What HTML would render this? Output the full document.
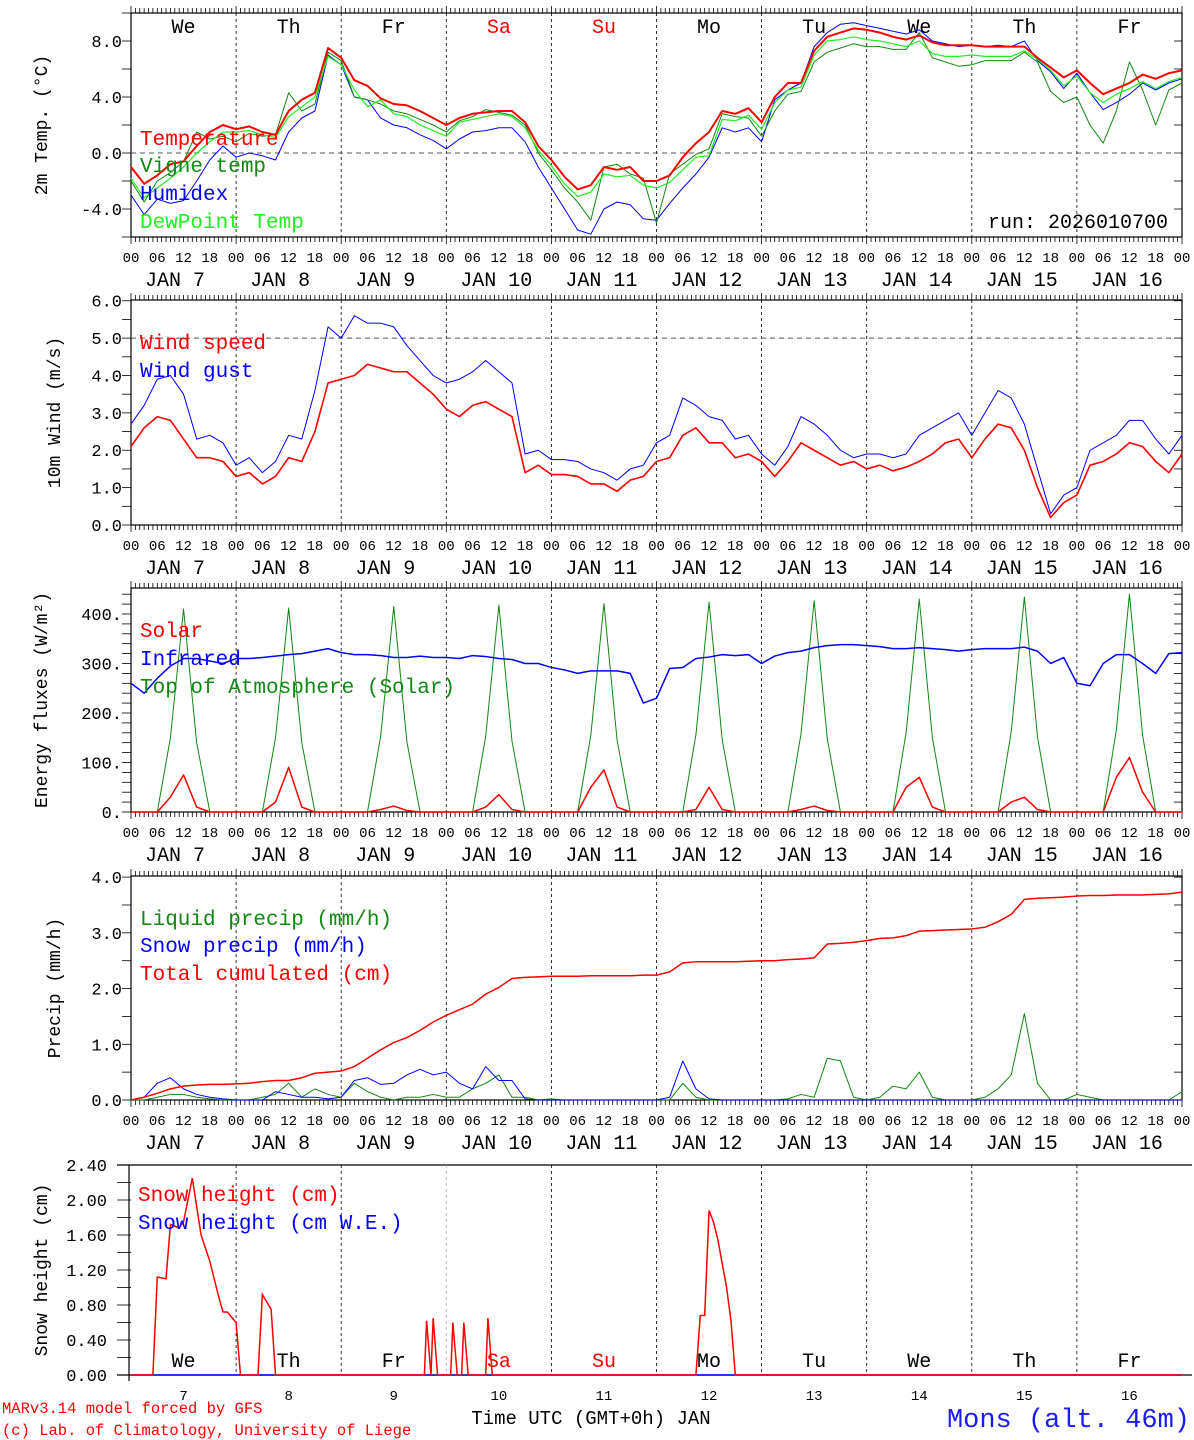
<!DOCTYPE html>
<html><head><meta charset="utf-8"><style>
html,body{margin:0;padding:0;background:#fff;}
svg{display:block;font-family:"Liberation Mono",monospace;}
</style></head><body>
<svg id="chart" width="1194" height="1440" viewBox="0 0 1194 1440" xmlns="http://www.w3.org/2000/svg"></svg>
<script>
// ---- data (3-hourly from Jan 7 00 UTC to Jan 17 00 UTC) ----
const days = ["7","8","9","10","11","12","13","14","15","16"];
const dayNames = ["We","Th","Fr","Sa","Su","Mo","Tu","We","Th","Fr"];
const temperature = [-1.0,-2.2,-1.6,-0.8,-0.6,0.5,1.5,2.0, 1.7,1.9,1.5,1.3,3.0,3.8,4.3,7.5, 6.8,5.2,4.8,3.9,3.5,3.4,3.0,2.5, 2.0,2.5,2.8,2.9,3.0,3.0,2.2,0.5, -0.5,-1.7,-2.6,-2.3,-1.0,-1.2,-1.0,-2.0, -2.0,-1.6,-0.3,0.7,1.5,3.0,2.8,3.2, 2.2,4.0,5.0,5.0,7.3,8.3,8.6,8.9, 8.8,8.6,8.3,8.1,8.4,7.9,7.7,7.7, 7.7,7.6,7.6,7.6,7.6,6.8,6.1,5.4, 5.9,5.0,4.2,4.6,5.0,5.6,5.3,5.7,5.9];
const vigneTemp = [-2.0,-3.5,-2.0,-1.4,-0.6,1.5,1.0,1.2, 0.8,1.4,1.2,1.3,4.3,3.0,3.5,7.2, 6.6,4.0,3.8,3.5,3.0,2.8,2.4,2.0, 1.5,2.3,2.6,3.1,2.9,2.7,2.0,0.0, -1.2,-2.5,-3.5,-4.8,-1.0,-0.8,-1.5,-1.8, -5.0,-1.5,-0.8,-0.1,0.3,2.8,2.6,2.5, 1.2,3.0,4.2,4.4,6.5,7.2,7.5,7.8, 7.6,7.6,7.4,7.4,8.6,6.8,6.5,6.2, 6.3,6.6,6.6,6.6,7.2,6.5,4.4,3.6, 4.0,2.0,0.7,3.0,6.5,4.5,2.0,4.5,5.0];
const humidex = [-3.0,-4.4,-3.3,-3.6,-3.4,-2.0,-0.5,0.5, -0.3,0.0,-0.2,-0.5,1.5,2.5,3.0,7.0, 6.3,4.0,3.8,2.5,2.0,1.8,1.3,0.9, 0.3,1.0,1.5,1.6,1.8,1.8,0.8,-1.0, -2.5,-4.0,-5.5,-5.8,-4.0,-3.5,-3.7,-4.7, -4.8,-3.6,-2.5,-1.5,-0.3,1.8,1.5,1.8, 0.8,3.8,4.5,5.0,7.6,8.6,9.2,9.3, 9.1,8.9,8.7,8.5,8.8,8.0,7.8,7.6, 7.7,7.6,7.7,7.6,8.0,6.6,5.8,4.6, 5.7,4.3,3.1,3.6,4.2,5.0,4.5,5.0,5.3];
const dewPoint = [-1.8,-3.2,-2.5,-1.8,-1.0,0.0,0.8,1.5, 1.5,1.6,1.3,1.1,2.6,3.3,4.0,6.9, 6.3,4.5,3.3,3.8,2.8,2.6,2.0,1.6, 1.2,2.2,2.4,2.6,2.8,2.6,1.8,0.2, -0.9,-2.2,-3.1,-2.8,-1.5,-1.7,-1.6,-2.3, -2.5,-2.1,-1.2,-0.3,-0.2,2.4,2.3,2.7, 1.7,3.6,4.5,4.7,7.0,8.0,8.1,8.3, 8.1,8.0,7.8,7.6,8.0,7.1,6.9,6.9, 7.0,6.9,6.9,6.9,7.3,6.7,5.9,4.8, 5.5,4.3,3.6,4.2,4.6,5.1,4.6,5.1,5.4];
const windSpeed = [2.1,2.6,2.9,2.8,2.3,1.8,1.8,1.7, 1.3,1.4,1.1,1.3,1.8,1.7,2.5,3.8, 3.9,4.0,4.3,4.2,4.1,4.1,3.8,3.5, 3.1,2.9,3.2,3.3,3.1,2.9,1.4,1.6, 1.35,1.35,1.3,1.1,1.1,0.9,1.2,1.3, 1.7,1.8,2.4,2.6,2.2,2.2,1.8,1.9, 1.7,1.3,1.7,2.2,2.0,1.8,1.6,1.7, 1.5,1.6,1.45,1.55,1.7,1.9,2.2,2.3, 1.8,2.3,2.7,2.6,2.0,1.0,0.2,0.6, 0.8,1.6,1.7,1.9,2.2,2.1,1.7,1.4,1.9];
const windGust = [2.7,3.2,3.9,4.0,3.5,2.3,2.4,2.2, 1.6,1.8,1.4,1.7,2.4,2.3,3.6,5.3, 5.0,5.6,5.4,5.4,5.3,4.8,4.4,4.0, 3.8,3.9,4.1,4.4,4.1,3.8,1.9,2.0, 1.75,1.75,1.7,1.5,1.4,1.2,1.5,1.6, 2.2,2.4,3.4,3.2,2.9,2.8,2.3,2.4, 1.9,1.6,2.1,2.9,2.7,2.4,2.0,1.8, 1.9,1.9,1.8,1.9,2.4,2.6,2.8,3.0, 2.4,3.0,3.6,3.4,2.7,1.5,0.3,0.8, 1.0,2.0,2.2,2.4,2.8,2.8,2.3,1.9,2.4];
const solar = [0,0,0,30,75,10,0,0, 0,0,0,20,90,10,0,0, 0,0,0,5,12,3,0,0, 0,0,0,10,35,5,0,0, 0,0,0,50,85,10,0,0, 0,0,0,5,50,5,0,0, 0,0,0,5,12,3,0,0, 0,0,0,50,70,10,0,0, 0,0,0,20,30,5,0,0, 0,0,0,70,110,40,0,0,0];
const infrared = [260,240,270,295,310,310,305,300, 310,310,312,315,318,320,325,330, 322,318,318,316,312,312,315,312, 312,310,316,314,310,308,300,300, 292,287,280,285,285,285,280,220, 230,290,292,310,313,318,316,318, 300,315,322,325,332,336,338,338, 336,334,330,330,332,330,328,325, 328,330,330,330,333,325,300,312, 260,255,300,318,318,300,280,320,322];
const toaSolar = [0,0,0,150,410,140,0,0, 0,0,0,150,412,140,0,0, 0,0,0,152,415,142,0,0, 0,0,0,153,418,143,0,0, 0,0,0,155,421,145,0,0, 0,0,0,156,424,146,0,0, 0,0,0,158,427,148,0,0, 0,0,0,160,430,150,0,0, 0,0,0,162,434,152,0,0, 0,0,0,165,440,155,0,0,0];
const liquidPrecip = [0,0,0.05,0.1,0.1,0.05,0.02,0, 0,0,0.05,0.1,0.3,0.05,0.2,0.1, 0.05,0.3,0.15,0.05,0,0.05,0.05,0.1, 0.05,0.05,0.2,0.3,0.45,0.05,0.05,0, 0.02,0,0,0,0,0,0,0, 0,0,0.3,0.05,0,0,0,0, 0,0,0.02,0.1,0.05,0.75,0.7,0.05, 0,0.05,0.25,0.2,0.5,0.05,0,0, 0,0.05,0.2,0.45,1.55,0.3,0,0, 0.1,0.05,0,0,0,0,0,0,0.15];
const snowPrecip = [0,0.05,0.3,0.4,0.2,0.1,0.05,0.02, 0,0,0,0.15,0.1,0.05,0.05,0.02, 0.05,0.35,0.4,0.28,0.3,0.45,0.55,0.45, 0.5,0.3,0.2,0.6,0.35,0.35,0.02,0, 0,0,0,0,0,0,0,0, 0,0.05,0.7,0.2,0.02,0,0,0, 0,0,0,0,0,0,0,0, 0,0,0,0,0,0,0,0, 0,0,0,0,0,0,0,0, 0,0,0,0,0,0,0,0,0];
const totalCumulated = [0,0.05,0.12,0.2,0.25,0.27,0.28,0.28, 0.29,0.3,0.33,0.35,0.35,0.4,0.48,0.5, 0.52,0.6,0.75,0.9,1.03,1.12,1.25,1.4, 1.52,1.62,1.72,1.9,2.02,2.18,2.2,2.21, 2.22,2.22,2.22,2.23,2.23,2.23,2.23,2.24, 2.24,2.3,2.46,2.48,2.48,2.48,2.48,2.49, 2.5,2.5,2.52,2.53,2.55,2.8,2.81,2.83, 2.86,2.9,2.91,2.95,3.03,3.04,3.05,3.06, 3.07,3.1,3.2,3.33,3.6,3.62,3.63,3.64, 3.66,3.67,3.67,3.68,3.68,3.68,3.69,3.7,3.73];
// snow height: irregular samples (hours since Jan 7 00 UTC)
const snowHours = [0,5,6,8,9,11,12,14,16,18,20,21,22,24,25,29,30,32,33,67,67.5,68.5,69,70,73,73.5,74.5,75.5,76,77,81,81.5,82.5,129,130,131,132,133,134,136,137,138,240];
const snowHeight = [0,0,1.12,1.1,1.72,1.68,1.75,2.25,1.6,1.3,0.9,0.72,0.72,0.6,0,0,0.92,0.75,0,0,0.62,0,0.65,0,0,0.6,0,0,0.6,0,0,0.65,0,0,0.68,0.68,1.88,1.75,1.55,1.0,0.62,0,0];
const snowWE = [0,0,0,0,0,0,0,0,0,0,0,0,0,0,0,0,0,0,0,0,0,0,0,0,0,0,0,0,0,0,0,0,0,0,0,0,0,0,0,0,0,0,0];
const yTicks1 = [-4,0,4,8];
const yTicks2 = [0,1,2,3,4,5,6];
const yTicks3 = [0,100,200,300,400];
const yTicks4 = [0,1,2,3,4];
const yTicks5 = [0,0.4,0.8,1.2,1.6,2.0,2.4];

// ---- drawing ----
const svg = document.getElementById('chart');
const NS = 'http://www.w3.org/2000/svg';
const X0 = 131, X1 = 1182, HOURS = 240;
function xOf(h){ return X0 + h*(X1-X0)/HOURS; }
function mk(tag, attrs, parent){ const e=document.createElementNS(NS,tag); for(const k in attrs) e.setAttribute(k,attrs[k]); (parent||svg).appendChild(e); return e; }
function txt(s, x, y, size, fill, anchor, parent){ const t=mk('text',{x:x,y:y,'font-size':size,fill:fill||'#000','text-anchor':anchor||'start'},parent); t.setAttribute('xml:space','preserve'); t.textContent=s; return t; }

function panel(name, top, bottom, vmin, vmax, ticks, fmt, minorStep, ylabel, ylx, zeroLine, xlabels, full){
  const g = mk('g',{});
  
  
  const y = v => bottom - (v - vmin)*(bottom-top)/(vmax-vmin);
  if(full){
    const r = mk('rect',{x:X0,y:top,width:X1-X0,height:bottom-top,fill:'none',stroke:'#000','stroke-width':1.2},g);
    
    
    for(let h=0; h<=HOURS; h++){
      const len = (h%24===0)?7:5;
      mk('line',{x1:xOf(h),x2:xOf(h),y1:top,y2:top-len,stroke:'#000','stroke-width':0.8},g);
      mk('line',{x1:xOf(h),x2:xOf(h),y1:bottom,y2:bottom+len,stroke:'#000','stroke-width':0.8},g);
    }
  } else {
    mk('line',{x1:117,x2:X1+10,y1:top,y2:top,stroke:'#000','stroke-width':1.2},g);
    mk('line',{x1:117,x2:X1+10,y1:bottom,y2:bottom,stroke:'#000','stroke-width':1.2},g);
    mk('line',{x1:X0-2,x2:X0-2,y1:top,y2:bottom+6,stroke:'#000','stroke-width':1.2},g);
  }
  for(let v=vmin; v<=vmax+1e-9; v+=minorStep){
    const left = full? X0-9 : 117;
    mk('line',{x1:left,x2:X0,y1:y(v),y2:y(v),stroke:'#000','stroke-width':0.8},g);
    if(full) mk('line',{x1:X1,x2:X1-8,y1:y(v),y2:y(v),stroke:'#000','stroke-width':0.8},g);
  }
  ticks.forEach(v=>{
    const t = txt(fmt(v), full?122:107, y(v)+6, 17, '#000','end', g);
    
    
  });
  for(let d=1; d<10; d++){
    mk('line',{x1:xOf(24*d),x2:xOf(24*d),y1:top,y2:bottom,stroke:(name==='snow-panel'&&d===3)?'#aaa':'#000','stroke-width':0.8,'stroke-dasharray':'3,3'},g);
  }
  if(zeroLine!==null) mk('line',{x1:X0,x2:X1,y1:y(zeroLine),y2:y(zeroLine),stroke:'#555','stroke-width':1,'stroke-dasharray':'5,4'},g);
  const yl = mk('text',{x:0,y:0,'font-size':18,fill:'#000','text-anchor':'middle',transform:`translate(${ylx},${(top+bottom)/2}) rotate(-90)`},g);
  yl.textContent = ylabel;
  
  
  if(xlabels){
    for(let h=0; h<=HOURS; h+=6){
      const t = txt(String(h%24).padStart(2,'0'), xOf(h), bottom+25, 14, '#000','middle', g);
      
      
    }
    days.forEach((d,i)=>{
      const s = 'JAN ' + (d.length===1?' ':'') + d;
      const t = txt(s, xOf(24*i)+14, bottom+49, 20, '#000','start', g);
      
      
    });
  }
  return {g:g, y:y};
}
function series(p, arr, color, width, name){
  let d='';
  arr.forEach((v,i)=>{ d += (i?'L':'M') + xOf(3*i).toFixed(2) + ',' + p.y(v).toFixed(2); });
  const path = mk('path',{d:d,fill:'none',stroke:color,'stroke-width':width,'stroke-linejoin':'round'},p.g);
  
  
}
function legend(p, x, y, label, color, name){
  const t = txt(label, x, y, 21, color, 'start', p.g);
  
  
}

const p1 = panel('temperature-panel', 13, 237, -6, 10, yTicks1, v=>v.toFixed(1), 2, '2m Temp. (°C)', 47, 0, true, true);
dayNames.forEach((n,i)=>{
  const t = txt(n, xOf(24*i+12), 33, 20, (i===3||i===4)?'#f00':'#000','middle', p1.g);
  
  
});
series(p1, humidex, '#0000ff', 1, 'humidex-line');
series(p1, vigneTemp, '#118811', 1, 'vigne-temp-line');
series(p1, dewPoint, '#22ee22', 1.2, 'dewpoint-line');
series(p1, temperature, '#ff0000', 2, 'temperature-line');
legend(p1, 140, 145, 'Temperature', '#f00', 'legend-temperature');
legend(p1, 140, 172, 'Vigne temp', '#118811', 'legend-vigne-temp');
legend(p1, 140, 200, 'Humidex', '#00f', 'legend-humidex');
legend(p1, 140, 228, 'DewPoint Temp', '#22ee22', 'legend-dewpoint');
const run = txt('run: 2026010700', 1168, 228, 20, '#000', 'end', p1.g);



const p2 = panel('wind-panel', 300, 525, 0, 6.02, yTicks2, v=>v.toFixed(1), 0.5, '10m Wind (m/s)', 60, 5, true, true);
series(p2, windGust, '#0000ff', 1, 'wind-gust-line');
series(p2, windSpeed, '#ff0000', 1.6, 'wind-speed-line');
legend(p2, 140, 349, 'Wind speed', '#f00', 'legend-wind-speed');
legend(p2, 140, 377, 'Wind gust', '#00f', 'legend-wind-gust');

const p3 = panel('energy-panel', 588, 812, 0, 452.5, yTicks3, v=>v.toFixed(0)+'.', 20, 'Energy fluxes (W/m²)', 47, null, true, true);
series(p3, toaSolar, '#118811', 1, 'toa-solar-line');
series(p3, infrared, '#0000ff', 1.5, 'infrared-line');
series(p3, solar, '#ff0000', 1.5, 'solar-line');
legend(p3, 140, 637, 'Solar', '#f00', 'legend-solar');
legend(p3, 140, 665, 'Infrared', '#00f', 'legend-infrared');
legend(p3, 140, 693, 'Top of Atmosphere (Solar)', '#118811', 'legend-toa-solar');

const p4 = panel('precip-panel', 876, 1100, 0, 4.02, yTicks4, v=>v.toFixed(1), 0.5, 'Precip (mm/h)', 60, null, true, true);
series(p4, liquidPrecip, '#118811', 1, 'liquid-precip-line');
series(p4, snowPrecip, '#0000ff', 1, 'snow-precip-line');
series(p4, totalCumulated, '#ff0000', 1.5, 'total-cumulated-line');
legend(p4, 140, 925, 'Liquid precip (mm/h)', '#118811', 'legend-liquid-precip');
legend(p4, 140, 952, 'Snow precip (mm/h)', '#00f', 'legend-snow-precip');
legend(p4, 140, 980, 'Total cumulated (cm)', '#f00', 'legend-total-cumulated');

const p5 = panel('snow-panel', 1165, 1375, 0, 2.4, yTicks5, v=>v.toFixed(2), 0.2, 'Snow height (cm)', 47, null, false, false);
dayNames.forEach((n,i)=>{
  const t = txt(n, xOf(24*i+12), 1367, 20, (i===3||i===4)?'#f00':'#000','middle', p5.g);
  
  
});
days.forEach((d,i)=>{
  const t = txt(d, xOf(24*i+12), 1400, 14, '#000','middle', p5.g);
  
  
});
function irregular(p, hs, vs, color, width, name){
  let d='';
  hs.forEach((h,i)=>{ d += (i?'L':'M') + xOf(h).toFixed(2) + ',' + p.y(vs[i]).toFixed(2); });
  const path = mk('path',{d:d,fill:'none',stroke:color,'stroke-width':width},p.g);
  
  
}
irregular(p5, snowHours, snowWE, '#0000ff', 1.5, 'snow-we-line');
irregular(p5, snowHours, snowHeight, '#ff0000', 1.5, 'snow-height-line');
legend(p5, 138, 1201, 'Snow height (cm)', '#f00', 'legend-snow-height');
legend(p5, 138, 1229, 'Snow height (cm W.E.)', '#00f', 'legend-snow-we');

const f1 = txt('MARv3.14 model forced by GFS', 2, 1413, 15.5, '#f00', 'start');


const f2 = txt('(c) Lab. of Climatology, University of Liege', 2, 1435, 15.5, '#f00', 'start');


const f3 = txt('Time UTC (GMT+0h) JAN', 591, 1424, 19, '#000', 'middle');


const f4 = txt('Mons (alt. 46m)', 1190, 1427, 27, '#1a1aff', 'end');


</script>
</body></html>
